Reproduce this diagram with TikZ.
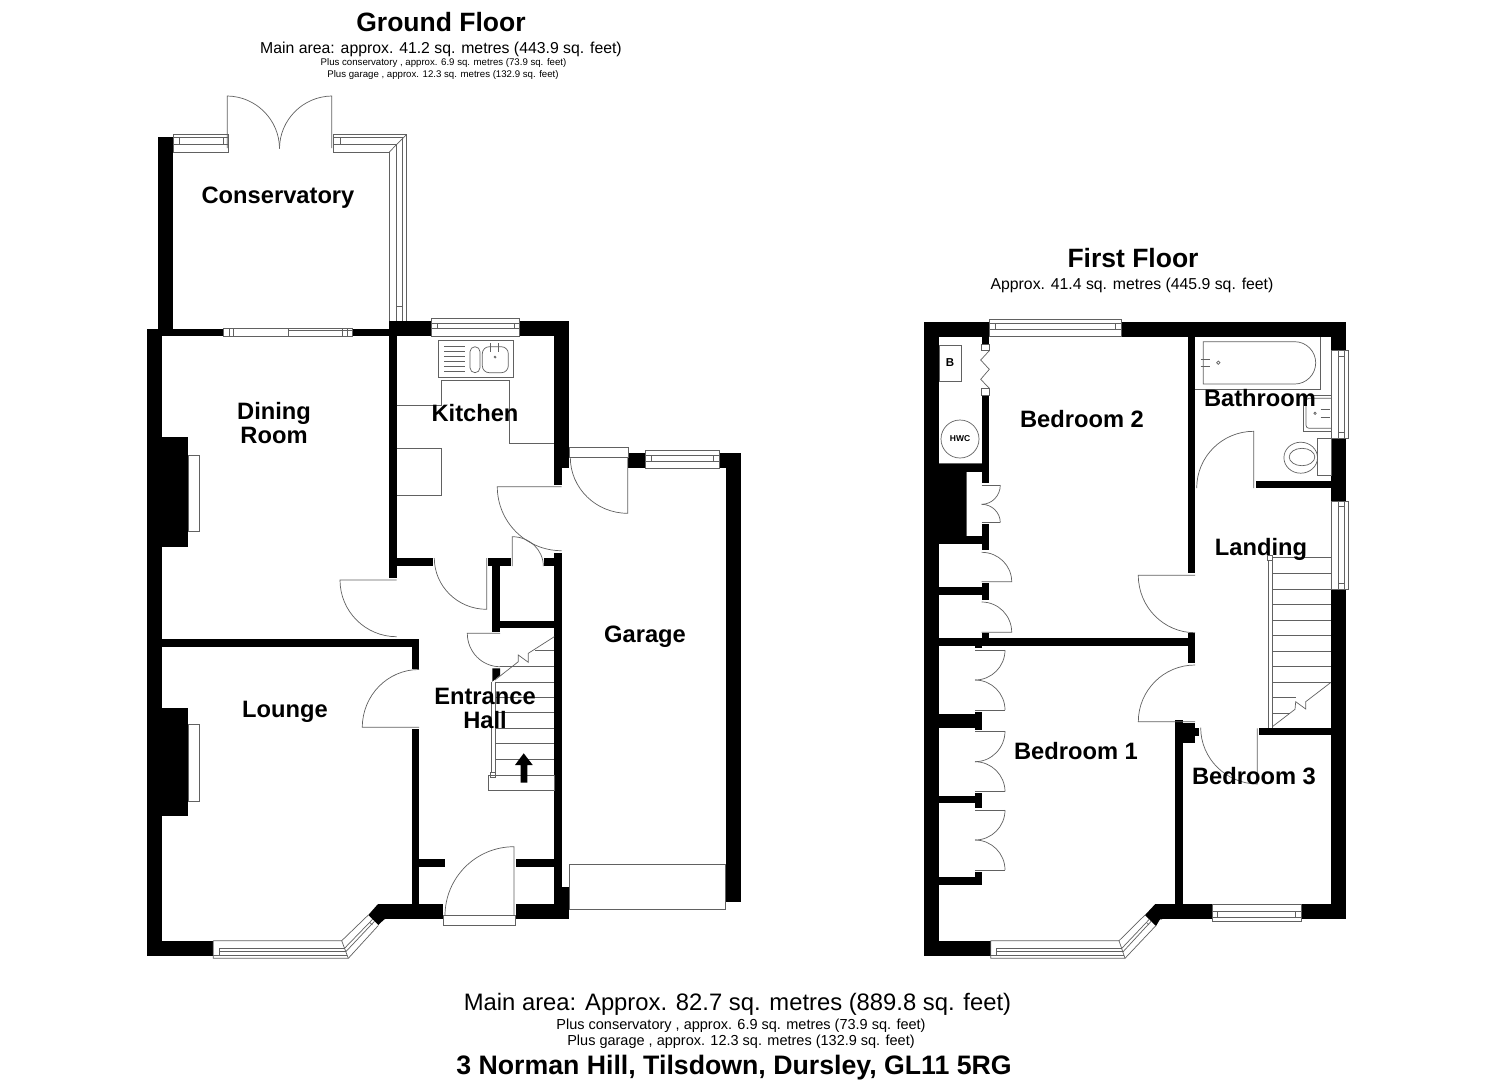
\documentclass[tikz,border=0pt]{standalone}
\usepackage{fontspec}
\setmainfont{Liberation Sans}
\usetikzlibrary{calc}
\tikzset{
	wall/.style={fill=black},
	fitting/.style={draw=black!62, line width=0.7pt, line join=miter},
	roomlabel/.style={font=\fontsize{23.7}{24}\selectfont\bfseries, align=center, inner sep=0pt},
	floortitle/.style={font=\fontsize{26.5}{28}\selectfont\bfseries, inner sep=0pt},
	areatext/.style={font=\fontsize{15.8}{16}\selectfont, inner sep=0pt},
	smalltext/.style={font=\fontsize{9.65}{11}\selectfont, inner sep=0pt}
}
% leaf from hinge #1 to tip #2, then the swing back to #3
\newcommand{\swingdoor}[3]{
	\coordinate (swingk) at ($(#2)+(#3)-(#1)$);
	\draw[fitting] (#1) -- (#2) .. controls ($(#2)!.5523!(swingk)$) and ($(#3)!.5523!(swingk)$) .. (#3);
}
% arc only
\newcommand{\swingarc}[3]{
	\draw[fitting] (#1) .. controls ($(#1)!.5523!(#3)$) and ($(#2)!.5523!(#3)$) .. (#2);
}
\begin{document}
\begin{tikzpicture}[x=1pt,y=-1pt]
	\useasboundingbox (0,0) rectangle (1485,1080);
	\fill[white] (0,0) rectangle (1485,1080);

	% walls
	\foreach \xa/\ya/\xb/\yb in {
		158/136.7/173.3/328.7, 147.3/328.7/162/956, 147.3/328.7/223.3/336, 352.7/328.7/389.3/336,
		389.3/321.3/431.7/336.3, 519.3/321.3/569.3/336.3, 554.3/336/569.3/467.7, 554.3/467/562/485,
		389.3/336/396.7/578.3, 396.7/557.7/433.3/565.7,
		162/436.7/188.3/547.3, 162/707.7/188.3/816,
		162/638.7/419.3/646.7, 411.7/646/419.3/669, 411.7/728.7/419.3/904.3,
		147.3/940.7/213.3/956, 377.7/904.3/443.3/919.3, 515.7/904.3/569.3/919.3,
		419/858.7/444.7/866.7, 515.7/858.7/554.3/866.7, 562/886.7/569.3/905,
		554.3/553/562/905, 492.3/558.3/500/631.7, 487.7/558.3/510.7/566, 544/558.3/554.7/566,
		500/620.7/554.3/628.3, 628.3/453.3/645.3/468, 719.3/453.3/741/468, 725.7/453.3/741/901.7,
		924/321.7/939.3/956, 924/321.7/989.3/336.7, 1121.3/321.7/1346/336.7,
		1331/321.7/1346/350, 1331/438.3/1346/501, 1331/589.3/1346/919.3,
		1187.7/336.7/1195/573.3, 939/638.3/1195/646, 1187.7/633.3/1195/663.3,
		981.7/336.7/989.3/344.3, 981.7/395/989.3/483.3, 939/463.7/966.7/544, 966/463.7/981.7/472.3,
		966/536/981.7/544, 981.7/524.3/989.3/550, 939/587.3/981.7/595, 981.7/583.3/989.3/600,
		981.7/633.3/989.3/638.5, 975/646/982.3/648.3,
		939/714.3/975/728.3, 975/711.7/982.3/730, 939/795.7/975/803.3, 975/793.3/982.3/808.3,
		939/877.3/975/885, 975/871.7/982.3/885,
		924/940.7/990.7/956, 1155/904.3/1212.3/919.3, 1301.7/904.3/1346/919.3,
		1175.3/720/1183.3/905, 1183/723.3/1195/742.7, 1195/727.7/1199/735.7, 1259/727.7/1331/735,
		1256/480.7/1331/488.3
	}{
		\fill[wall] (\xa,\ya) rectangle (\xb,\yb);
	}
	\fill[wall] (368.3,915) -- (377.7,904.3) -- (385,904.3) -- (385,919.3) -- (384.3,919.3) -- (378.3,925) -- cycle;
	\fill[wall] (1145,915) -- (1155,904.3) -- (1162,904.3) -- (1162,919.3) -- (1160,919.3) -- (1156,926) -- cycle;
	\fill[wall] (492.3,668.3) -- (500,668.3) -- (500,675.3) -- (492.3,681.7) -- cycle;

	% straight windows: outer box, glass lines, end ticks
	\foreach \xa/\ya/\xb/\yb/\xc/\yc/\xd/\yd in {
		173.3/134.3/228.5/152/179.3/137.7/223.3/144.3,
		431.7/318.7/519.3/336.3/437.7/323.3/514/328.7,
		645.3/450.7/719.3/468/651.7/455/713.3/461,
		989.3/319.3/1121.3/336.7/995/323.3/1115.7/329.3,
		1212.3/904.3/1301.7/921.7/1217.7/911.7/1295.7/917.3
	}{
		\draw[fitting] (\xa,\ya) rectangle (\xb,\yb);
		\draw[fitting] (\xa,\yc) -- (\xb,\yc) (\xa,\yd) -- (\xb,\yd);
		\draw[fitting] (\xc,\yc) -- (\xc,\yd) (\xd,\yc) -- (\xd,\yd);
	}
	\foreach \ya/\yb/\yc/\yd in {350/438.3/356/432.7, 501/589.3/506.7/583.3} {
		\draw[fitting] (1331,\ya) rectangle (1348.3,\yb);
		\draw[fitting] (1338.3,\ya) -- (1338.3,\yb) (1344.3,\ya) -- (1344.3,\yb);
		\draw[fitting] (1338.3,\yc) -- (1344.3,\yc) (1338.3,\yd) -- (1344.3,\yd);
	}

	% conservatory corner window
	\draw[fitting] (333.3,152) -- (333.3,134.3) -- (406.7,134.3) -- (406.7,321.3);
	\draw[fitting] (389.3,321.3) -- (389.3,152) -- (333.3,152);
	\draw[fitting] (389.3,152) -- (406.7,134.3);
	\draw[fitting] (340,137.7) -- (340,144.3);
	\draw[fitting] (333.3,137.7) -- (402.7,137.7) -- (402.7,321.3);
	\draw[fitting] (333.3,144.3) -- (396,144.3) -- (396,321.3);
	\draw[fitting] (396,306) -- (402.7,306);

	% french doors
	\swingdoor{227.3,148}{227.3,96}{279.5,148.7}
	\swingdoor{331.7,148}{331.7,96}{279.5,148.7}

	% sliding doors to dining room
	\draw[fitting] (223.3,328.7) rectangle (352.7,336);
	\foreach \x in {229.3,233.7,288,342.7,347} {
		\draw[fitting] (\x,328.7) -- (\x,336);
	}
	\draw[fitting] (288,330.7) -- (352.7,330.7);

	% bay windows
	\foreach \xs/\xe/\xo/\xp/\xq/\xr in {213.3/341.7/348.3/368.3/378.3/219.3, 990.7/1119/1125/1145/1156/996.7} {
		\draw[fitting] (\xs,940.7) -- (\xe,940.7) -- (\xp,915) (\xs,940.7) -- (\xs,958.3) -- (\xo,958.3) -- (\xq,925.5);
		\draw[fitting] (\xe,940.7) -- (\xo,958.3);
		\draw[fitting] (\xr,948.3) -- (\xr,955) (\xr,948.3) -- ($(\xe,948.3)+(2.8,0)$) (\xr,951.7) -- ($(\xe,951.7)+(4.1,0)$) (\xs,955) -- ($(\xo,955)+(-1.3,0)$);
		\draw[fitting] ($(\xe,948.3)+(2.8,0)$) -- ($(\xp,915)+(4.3,4.3)$);
		\draw[fitting] ($(\xe,951.7)+(4.1,0)$) -- ($(\xp,915)+(6.2,6.2)$);
		\draw[fitting] ($(\xp,915)+(1.5,7.5)$) -- ($(\xp,915)+(4,10)$);
	}

	% fires
	\draw[fitting] (188.3,455) rectangle (199.7,531);
	\draw[fitting] (188.3,724) rectangle (199.7,801);

	% kitchen units
	\draw[fitting] (396.7,405) -- (441.7,405) -- (441.7,380.3) -- (509.7,380.3) -- (509.7,443) -- (554.3,443);
	\draw[fitting] (396.7,448.3) -- (441.7,448.3) -- (441.7,495.7) -- (396.7,495.7);
	\draw[fitting] (438.3,340) rectangle (513.3,377.7);
	\foreach \y in {346.7,351.7,356.7,361.7,366.7,371.7} {
		\draw[fitting] (444,\y) -- (465,\y);
	}
	\draw[fitting, rounded corners=5pt] (470,346.7) rectangle (480,372.7);
	\draw[fitting, rounded corners=7pt] (482.3,346.7) rectangle (508.3,372.7);
	\foreach \x in {490,498.3} {
		\draw[fitting] (\x,343) -- (\x,352);
	}
	\draw[fitting] (495,357) circle[radius=1pt];

	% ground floor doors
	\swingdoor{396.7,580}{340,580}{396.7,636.7}
	\swingdoor{486.7,558}{486.7,609.3}{434.3,558}
	\swingdoor{419,727.3}{362.3,727.3}{419,669.5}
	\swingdoor{500,633.3}{467.3,633.3}{500,666.7}
	\swingdoor{512.3,566}{512.3,536.7}{543.3,566}
	\swingdoor{561.7,486.7}{497.3,486.7}{561.7,550.7}
	\swingdoor{627.7,457.3}{627.7,513.3}{570.3,457.3}
	\swingdoor{514,915.7}{514,846.7}{445,915.7}
	\draw[fitting] (443.3,915.7) rectangle (515.7,925.7);
	\draw[fitting] (569.3,447.3) rectangle (628.3,457.3);
	\draw[fitting] (569.3,864.3) rectangle (725.7,909.3);

	% ground floor stairs
	\foreach \y in {682,697.3,712.7,728.3,743.7,759.3,775} {
		\draw[fitting] (495.7,\y) -- (554.3,\y);
	}
	\draw[fitting] (488.3,775) rectangle (554.3,790.3);
	\draw[fitting] (491.3,681.7) -- (491.3,772.7);
	\draw[fitting] (495.7,681.7) -- (495.7,772.7);
	\draw[fitting] (490.7,772.7) rectangle (495.7,777.3);
	\draw[fitting] (500,666.3) -- (554.3,666.3) (535,650.7) -- (554.3,650.7);
	\draw[fitting] (495,680) -- (518.3,661.7) -- (518.3,655) -- (528.3,662.3) -- (528.3,653.3) -- (554.3,636.7);
	\fill[wall] (520.7,782.7) -- (520.7,765) -- (515,765) -- (523.7,753.3) -- (532.7,765) -- (527.3,765) -- (527.3,782.7) -- cycle;

	% first floor cupboards
	\draw[fitting] (981.7,344.3) rectangle (989.3,350.7);
	\draw[fitting] (981.7,388.3) rectangle (989.3,395);
	\draw[fitting] (989.3,350.7) -- (980.7,360) -- (989.3,369.3) -- (980.7,379.3) -- (989.3,388.3);
	\draw[fitting] (939.3,345.3) rectangle (961.7,381.3);
	\node[font=\fontsize{11.5}{12}\selectfont\bfseries, inner sep=0pt] (boiler) at (950,363) {B};
	\node[draw=black!62, line width=0.7pt, circle, minimum size=38pt, inner sep=0pt, font=\fontsize{8.5}{9}\selectfont\bfseries] (hwc) at (960,439) {HWC};
	\draw[fitting] (939.3,463.7) -- (981.7,463.7);
	\draw[fitting] (966.7,472.3) -- (966.7,536);

	% double cupboard doors: leaf, arc, arc, leaf
	\foreach \xa/\xb/\ya/\ym/\yb in {981.7/1000.3/485/504.3/522.7, 975/1005/650/680/710, 975/1005/731/761.7/791.7, 975/1005/810/840/870} {
		\draw[fitting] (\xa,\ya) -- (\xb,\ya);
		\swingarc{\xb,\ya}{\xa,\ym}{\xb,\ym}
		\swingarc{\xa,\ym}{\xb,\yb}{\xb,\ym}
		\draw[fitting] (\xa,\yb) -- (\xb,\yb);
	}

	% first floor doors
	\swingdoor{981.7,581.7}{1011.7,581.7}{981.7,552.3}
	\swingdoor{981.7,632.3}{1011.7,632.3}{981.7,602}
	\swingdoor{1195,575.3}{1138.3,575.3}{1195,632.7}
	\swingdoor{1195,721.7}{1138.3,721.7}{1195,665}
	\swingdoor{1257.3,728.3}{1257.3,784}{1200.7,727.7}
	\swingdoor{1253.7,488}{1253.7,431.3}{1196.7,488}

	% bathroom
	\draw[fitting] (1195,389.3) -- (1320.7,389.3) -- (1320.7,336.7);
	\draw[fitting] (1203.3,341.7) -- (1294.7,341.7) .. controls (1306.3,341.7) and (1315.7,351.2) .. (1315.7,362.8) .. controls (1315.7,374.5) and (1306.3,384) .. (1294.7,384) -- (1203.3,384) -- cycle;
	\draw[fitting] (1200.7,359.3) -- (1210,359.3) (1200.7,366) -- (1210,366);
	\draw[fitting] (1218.3,362.7) circle[radius=1.7pt];
	\draw[fitting] (1331,395) -- (1303.3,395) -- (1303.3,431.7) -- (1331,431.7);
	\draw[fitting, rounded corners=3pt] (1331,398.3) -- (1306,398.3) -- (1306,428.3) -- (1331,428.3);
	\draw[fitting] (1320.7,409.3) -- (1330,409.3) (1320.7,417.3) -- (1330,417.3);
	\draw[fitting] (1315,413.3) circle[radius=1.2pt];
	\draw[fitting] (1317.7,438.3) rectangle (1331,475.7);
	\draw[fitting] (1300.7,457.7) ellipse[x radius=16.8, y radius=15.5];
	\draw[fitting] (1302,457) ellipse[x radius=12.8, y radius=8.7];

	% first floor stairs
	\foreach \y in {557.7,573.3,589,604.3,620,635.7,651,666.7,682.3} {
		\draw[fitting] (1272.3,\y) -- (1331,\y);
	}
	\draw[fitting] (1272.3,697.7) -- (1296,697.7) (1272.3,713.3) -- (1290,713.3);
	\draw[fitting] (1268.3,560.7) -- (1268.3,727.7) (1272.3,560.7) -- (1272.3,727.7);
	\draw[fitting] (1267.7,555.7) rectangle (1272.3,560.7);
	\draw[fitting] (1272.3,726.7) -- (1295,709.3) -- (1295.7,701.7) -- (1305.7,709) -- (1305.7,701.7) -- (1331,682.3);

	% room names
	\node[roomlabel] (conservatory) at (278,198) {Conservatory};
	\node[roomlabel] (dining) at (274,423) {Dining\\Room};
	\node[roomlabel] (kitchen) at (475,413) {Kitchen};
	\node[roomlabel] (lounge) at (285,712) {Lounge};
	\node[roomlabel] (hall) at (485,708.5) {Entrance\\Hall};
	\node[roomlabel] (garage) at (645,637) {Garage};
	\node[roomlabel] (bedtwo) at (1082,419) {Bedroom 2};
	\node[roomlabel] (bathroom) at (1260,398) {Bathroom};
	\node[roomlabel] (landing) at (1261,549) {Landing};
	\node[roomlabel] (bedone) at (1076,751) {Bedroom 1};
	\node[roomlabel] (bedthree) at (1254,776) {Bedroom 3};

	% titles and areas
	\node[floortitle] (ground) at (441,22) {Ground Floor};
	\node[areatext] (groundarea) at (441,49) {Main area: approx. 41.2 sq. metres (443.9 sq. feet)};
	\node[smalltext] (groundcons) at (443.5,63) {Plus conservatory , approx. 6.9 sq. metres (73.9 sq. feet)};
	\node[smalltext] (groundgar) at (443,75) {Plus garage , approx. 12.3 sq. metres (132.9 sq. feet)};
	\node[floortitle] (first) at (1133,258) {First Floor};
	\node[areatext] (firstarea) at (1132,285) {Approx. 41.4 sq. metres (445.9 sq. feet)};
	\node[font=\fontsize{23.8}{24}\selectfont, inner sep=0pt] (totalarea) at (737.5,1004) {Main area: Approx. 82.7 sq. metres (889.8 sq. feet)};
	\node[font=\fontsize{14.5}{15}\selectfont, inner sep=0pt] (totalcons) at (741,1026) {Plus conservatory , approx. 6.9 sq. metres (73.9 sq. feet)};
	\node[font=\fontsize{14.5}{15}\selectfont, inner sep=0pt] (totalgar) at (741,1042) {Plus garage , approx. 12.3 sq. metres (132.9 sq. feet)};
	\node[font=\fontsize{26.7}{28}\selectfont\bfseries, inner sep=0pt] (address) at (734,1068) {3 Norman Hill, Tilsdown, Dursley, GL11 5RG};
\end{tikzpicture}
\end{document}
